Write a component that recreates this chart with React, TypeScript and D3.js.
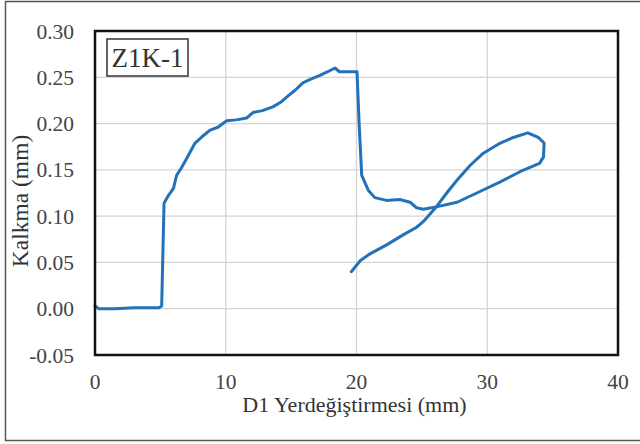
import React, { useRef, useEffect } from 'react';
import * as d3 from 'd3';

// Kalkma vs D1 Yerdeğiştirmesi
const dispX = [
  0, 0.3, 1.5, 3.0, 4.9, 5.1, 5.28, 5.6, 6.0, 6.24, 6.6, 7.0, 7.65, 8.2, 8.8, 9.4, 10.07, 10.8, 11.6, 12.1, 12.8,
  13.6, 14.2, 14.7, 15.3, 15.9, 16.5, 17.2, 17.8, 18.35, 18.7, 19.3, 20.04, 20.2, 20.4, 20.9, 21.4, 22.3, 23.3,
  24.1, 24.6, 25.1, 26.1, 27.7, 29.2, 31.0, 32.5, 34.0, 34.3, 34.35, 33.9, 33.1, 32.0, 31.0, 29.7, 28.7, 27.7,
  26.9, 26.1, 25.1, 24.6, 23.6, 22.3, 21.0, 20.3, 19.6,
];
const kalkma = [
  0.003, 0.0, 0.0, 0.001, 0.001, 0.003, 0.114, 0.122, 0.13, 0.144, 0.152, 0.162, 0.179, 0.186, 0.193, 0.196,
  0.203, 0.204, 0.206, 0.212, 0.214, 0.218, 0.223, 0.229, 0.236, 0.244, 0.248, 0.252, 0.256, 0.26, 0.256, 0.256,
  0.256, 0.2, 0.144, 0.128, 0.12, 0.117, 0.118, 0.115, 0.109, 0.1075, 0.11, 0.115, 0.125, 0.137, 0.148, 0.157,
  0.164, 0.179, 0.185, 0.19, 0.185, 0.179, 0.168, 0.155, 0.139, 0.125, 0.11, 0.094, 0.088, 0.08, 0.069, 0.059,
  0.052, 0.04,
];
const xTicks = [0, 10, 20, 30, 40];
const yTicks = [-0.05, 0, 0.05, 0.1, 0.15, 0.2, 0.25, 0.3];

const App = () => {
  const svgRef = useRef<SVGSVGElement>(null);

  useEffect(() => {
    const width = 640;
    const height = 444;
    const margin = { top: 31, right: 22, bottom: 89, left: 95 };
    const innerW = width - margin.left - margin.right;
    const innerH = height - margin.top - margin.bottom;
    const font = "Liberation Serif";

    const root = d3.select(svgRef.current);
    root.selectAll("*").remove();
    root.attr("width", width).attr("height", height)
      .attr("font-family", font);

    root.append("rect")
      .attr("width", width).attr("height", height)
      .attr("fill", "#fff");

    // outer picture frame
    root.append("rect")
      .attr("x", 5.5).attr("y", 1.5)
      .attr("width", 645).attr("height", 439)
      .attr("fill", "none")
      .attr("stroke", "#555")
      .attr("stroke-width", 1.5);

    const svg = root.append("g")
      .attr("transform", `translate(${margin.left},${margin.top})`);

    const x = d3.scaleLinear().domain([0, 40]).range([0, innerW]);
    const y = d3.scaleLinear().domain([-0.05, 0.3]).range([innerH, 0]);

    // grid
    svg.append("g")
      .selectAll("line")
      .data(xTicks.slice(1, -1))
      .enter().append("line")
      .attr("x1", d => x(d)).attr("x2", d => x(d))
      .attr("y1", 0).attr("y2", innerH)
      .attr("stroke", "#d4d4d4").attr("stroke-width", 1.3);

    svg.append("g")
      .selectAll("line")
      .data(yTicks.slice(1, -1))
      .enter().append("line")
      .attr("x1", 0).attr("x2", innerW)
      .attr("y1", d => y(d)).attr("y2", d => y(d))
      .attr("stroke", "#d4d4d4").attr("stroke-width", 1.3);

    // tick labels
    svg.append("g")
      .selectAll("text")
      .data(yTicks)
      .enter().append("text")
      .attr("x", -21)
      .attr("y", d => y(d))
      .attr("dy", "0.35em")
      .attr("text-anchor", "end")
      .attr("font-size", 21.5)
      .attr("fill", "#444")
      .text(d => d.toFixed(2));

    svg.append("g")
      .selectAll("text")
      .data(xTicks)
      .enter().append("text")
      .attr("x", d => x(d))
      .attr("y", innerH + 34)
      .attr("text-anchor", "middle")
      .attr("font-size", 21.5)
      .attr("fill", "#444")
      .text(d => d);

    // series
    const pts: [number, number][] = dispX.map((d, i) => [d, kalkma[i]]);
    const line = d3.line<[number, number]>()
      .x(d => x(d[0]))
      .y(d => y(d[1]));

    svg.append("path")
      .datum(pts)
      .attr("d", line)
      .attr("fill", "none")
      .attr("stroke", "#2372b9")
      .attr("stroke-width", 3)
      .attr("stroke-linejoin", "round")
      .attr("stroke-linecap", "round");

    // plot frame
    svg.append("rect")
      .attr("width", innerW).attr("height", innerH)
      .attr("fill", "none")
      .attr("stroke", "#111")
      .attr("stroke-width", 2.5);

    // specimen label
    svg.append("rect")
      .attr("x", 12).attr("y", 8)
      .attr("width", 81).attr("height", 37)
      .attr("fill", "#fff")
      .attr("stroke", "#333")
      .attr("stroke-width", 1.5);

    svg.append("text")
      .attr("x", 52.5).attr("y", 27)
      .attr("dy", "0.35em")
      .attr("text-anchor", "middle")
      .attr("font-size", 27)
      .attr("fill", "#333")
      .text("Z1K-1");

    // axis titles
    svg.append("text")
      .attr("x", innerW / 2 - 2)
      .attr("y", innerH + 57)
      .attr("text-anchor", "middle")
      .attr("font-size", 22)
      .attr("fill", "#333")
      .text("D1 Yerdeğiştirmesi (mm)");

    svg.append("text")
      .attr("transform", "rotate(-90)")
      .attr("x", -(innerH / 2) - 8)
      .attr("y", -67)
      .attr("text-anchor", "middle")
      .attr("font-size", 23.5)
      .attr("fill", "#333")
      .text("Kalkma (mm)");
  }, []);

  return <svg ref={svgRef} style={{ position: 'absolute', left: 0, top: 0 }}></svg>;
};

export default App;
